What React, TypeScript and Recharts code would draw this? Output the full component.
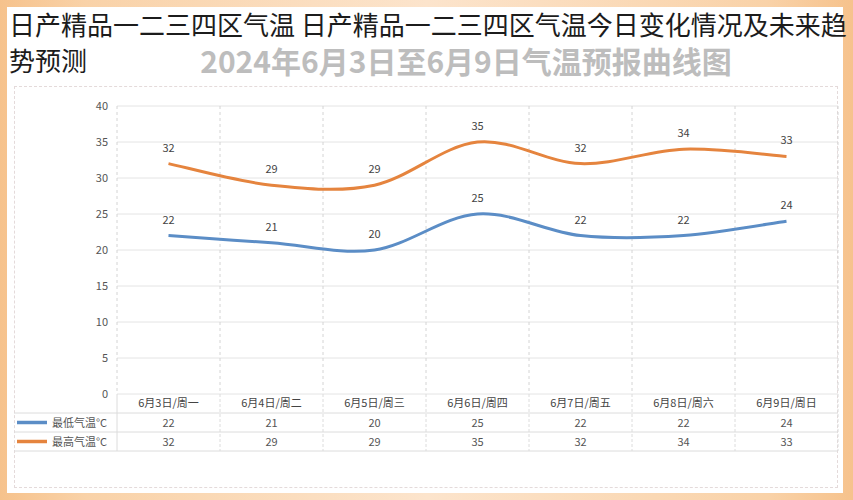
import { LineChart, Line, XAxis, YAxis, CartesianGrid, LabelList } from "recharts";

const categories = ["6月3日/周一", "6月4日/周二", "6月5日/周三", "6月6日/周四", "6月7日/周五", "6月8日/周六", "6月9日/周日"];
const lowTemps = [22, 21, 20, 25, 22, 22, 24];
const highTemps = [32, 29, 29, 35, 32, 34, 33];
const yTicks = [0, 5, 10, 15, 20, 25, 30, 35, 40];
const seriesNames = ["最低气温°C", "最高气温°C"];
const seriesColors = ["#5b8dc6", "#e5843e"];

const W = 853;
const H = 500;
const MARGIN = { top: 106, right: 15, left: 77, bottom: 49 };
const Y_AXIS_W = 40;
const PLOT_LEFT = MARGIN.left + Y_AXIS_W;
const PLOT_W = W - MARGIN.right - PLOT_LEFT;
const STEP = PLOT_W / categories.length;
const ROW_H = 19;
const FONT = "'Noto Sans CJK SC', 'Noto Sans', sans-serif";

const rows = categories.map((day, i) => ({ day, low: lowTemps[i], high: highTemps[i] }));

// Catmull-Rom style smoothing, like the office-chart "smooth line"
function smoothCurve(context: any) {
  let pts: number[][] = [];
  return {
    areaStart() {},
    areaEnd() {},
    lineStart() { pts = []; },
    point(x: number, y: number) { pts.push([+x, +y]); },
    lineEnd() {
      if (!pts.length) return;
      context.moveTo(pts[0][0], pts[0][1]);
      const k = 1 / 6;
      for (let i = 0; i < pts.length - 1; i++) {
        const p0 = pts[i - 1] || pts[i];
        const p1 = pts[i];
        const p2 = pts[i + 1];
        const p3 = pts[i + 2] || p2;
        context.bezierCurveTo(
          p1[0] + (p2[0] - p0[0]) * k, p1[1] + (p2[1] - p0[1]) * k,
          p2[0] - (p3[0] - p1[0]) * k, p2[1] - (p3[1] - p1[1]) * k,
          p2[0], p2[1]
        );
      }
    },
  };
}

function TableTick(props: any) {
  const { x, y } = props;
  const index = props.index ?? props.payload?.index ?? 0;
  const half = STEP / 2;
  const values = [lowTemps, highTemps];
  const grid = "#dcdcdc";
  return (
    <g fontFamily={FONT}>
      <text x={x} y={y + 13} textAnchor="middle" fontSize={11} fill="#444">{categories[index]}</text>
      {values.map((vals, r) => (
        <text key={r} x={x} y={y + ROW_H * (r + 1) + 14} textAnchor="middle" fontSize={11} fill="#555">{vals[index]}</text>
      ))}
      {[1, 2, 3].map((r) => (
        <line key={r} x1={x - half} x2={x + half} y1={y + ROW_H * r} y2={y + ROW_H * r} stroke={grid} />
      ))}
      <line x1={x + half} x2={x + half} y1={y} y2={y + ROW_H * 3} stroke={grid} strokeDasharray="3 2" />
      {index === 0 && (
        <g>
          <line x1={x - half} x2={x - half} y1={y} y2={y + ROW_H * 3} stroke={grid} />
          {[1, 2, 3].map((r) => (
            <line key={r} x1={14} x2={x - half} y1={y + ROW_H * r} y2={y + ROW_H * r} stroke={grid} />
          ))}
          {seriesNames.map((name, r) => (
            <g key={name}>
              <line x1={17} x2={47} y1={y + ROW_H * (r + 1) + 9.5} y2={y + ROW_H * (r + 1) + 9.5} stroke={seriesColors[r]} strokeWidth={3.5} />
              <text x={52} y={y + ROW_H * (r + 1) + 14} fontSize={11} fill="#555">{name}</text>
            </g>
          ))}
        </g>
      )}
    </g>
  );
}

export default function App() {
  return (
    <div style={{ position: "absolute", left: 0, top: 0, width: W, height: H, background: "linear-gradient(90deg, #f6c28c 0%, #f9d2a8 10%, #fce4cc 50%, #f9d2a8 90%, #f6c28c 100%)", overflow: "hidden" }}>
      <div style={{ position: "absolute", left: 7, top: 7, width: 836, height: 486, background: "#fff" }} />
      <div style={{ position: "absolute", left: 14, top: 86, width: 824, height: 402, border: "1px dashed #e4dada", boxSizing: "border-box" }} />
      <div style={{ position: "absolute", left: 9, top: 6, fontFamily: FONT, fontSize: 26, lineHeight: "36px", color: "#1c1c1c", whiteSpace: "nowrap" }}>
        <div>日产精品一二三四区气温 日产精品一二三四区气温今日变化情况及未来趋</div>
        <div>势预测</div>
      </div>
      <div style={{ position: "absolute", left: 66, width: 800, top: 41, textAlign: "center", fontFamily: FONT, fontSize: 30, fontWeight: 600, color: "#bdbdbd", lineHeight: "38px" }}>
        2024年6月3日至6月9日气温预报曲线图
      </div>
      <div style={{ position: "absolute", left: 0, top: 0 }}>
        <LineChart width={W} height={H} data={rows} margin={MARGIN}>
          <CartesianGrid vertical={false} stroke="#e4e4e4" />
          <CartesianGrid
            horizontal={false}
            stroke="#d4d4d4"
            strokeDasharray="3 3"
            verticalCoordinatesGenerator={(p: any) => {
              const left = p?.offset?.left ?? PLOT_LEFT;
              const width = p?.offset?.width ?? PLOT_W;
              return categories.map((_, i) => left + (i * width) / categories.length).concat(left + width);
            }}
          />
          <XAxis
            dataKey="day"
            height={57}
            interval={0}
            axisLine={false}
            tickLine={false}
            tickSize={0}
            tickMargin={0}
            padding={{ left: STEP / 2, right: STEP / 2 }}
            tick={<TableTick />}
          />
          <YAxis
            width={Y_AXIS_W}
            domain={[0, 40]}
            ticks={yTicks}
            axisLine={false}
            tickLine={false}
            tickSize={0}
            tickMargin={9}
            tick={{ fontSize: 11, fill: "#555", fontFamily: FONT }}
          />
          <Line dataKey="high" name={seriesNames[1]} type={smoothCurve as any} stroke={seriesColors[1]} strokeWidth={3} dot={false} activeDot={false} isAnimationActive={false}>
            <LabelList dataKey="high" position="top" offset={12} fontSize={11} fill="#444" fontFamily={FONT} />
          </Line>
          <Line dataKey="low" name={seriesNames[0]} type={smoothCurve as any} stroke={seriesColors[0]} strokeWidth={3} dot={false} activeDot={false} isAnimationActive={false}>
            <LabelList dataKey="low" position="top" offset={12} fontSize={11} fill="#444" fontFamily={FONT} />
          </Line>
        </LineChart>
      </div>
    </div>
  );
}
